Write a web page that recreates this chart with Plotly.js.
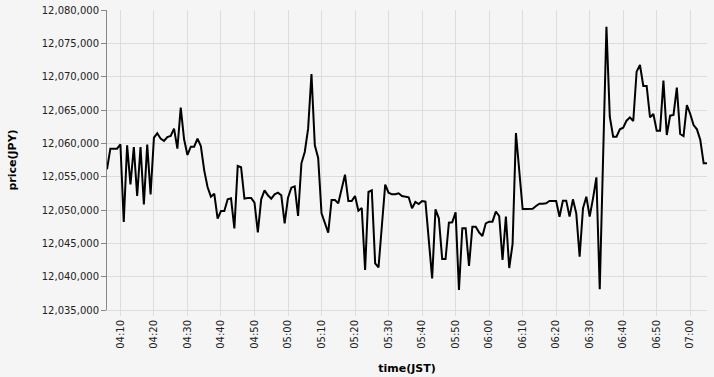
<!DOCTYPE html>
<html>
<head>
<meta charset="utf-8">
<script src="https://cdn.plot.ly/plotly-3.0.1.min.js"></script>
<style>html,body{margin:0;padding:0;background:#f5f5f5;}#chart{width:714px;height:377px;}</style>
</head>
<body>
<div id="chart"></div>
<script>
const times = [];
(function(){
  // one point per minute from 04:06 to 07:05
  const t0 = new Date(2024,0,1,4,6,0);
  for (let i = 0; i < 180; i++) {
    const d = new Date(t0.getTime() + i*60000);
    const p = n => String(n).padStart(2,'0');
    times.push(`2024-01-01 ${p(d.getHours())}:${p(d.getMinutes())}:00`);
  }
})();

const prices = [
12056100,12059200,12059200,12059200,12059850,12048200,12059700,12053850,12059450,12052100,
12059450,12050850,12059800,12052350,12060850,12061500,12060700,12060350,12060950,12061100,
12062200,12059200,12065350,12060600,12058250,12059500,12059500,12060700,12059600,12055950,
12053450,12052000,12052450,12048700,12049850,12049850,12051600,12051750,12047250,12056600,
12056400,12051700,12051800,12051800,12051100,12046650,12051600,12052950,12052200,12051700,
12052350,12052600,12052200,12048000,12051850,12053350,12053550,12049100,12057000,12058700,
12062200,12070400,12059700,12057800,12049500,12048200,12046600,12051500,12051500,12051000,
12053100,12055300,12051350,12051350,12052100,12049900,12050300,12041000,12052700,12052950,
12042000,12041400,12047600,12053800,12052600,12052350,12052350,12052500,12052100,12052050,
12051900,12050250,12051200,12050900,12051350,12051250,12046000,12039750,12050100,12048750,
12042650,12042650,12048100,12048150,12049650,12038000,12047250,12047250,12041600,12047500,
12047500,12046650,12046100,12048000,12048250,12048250,12049750,12049100,12042500,12049000,
12041300,12044900,12061550,12055900,12050150,12050150,12050150,12050200,12050600,12050950,
12050950,12051000,12051350,12051350,12051350,12049000,12051400,12051400,12049000,12051600,
12049500,12043000,12050250,12052000,12049000,12051750,12054900,12038100,12057000,12077500,
12064000,12061000,12061000,12062100,12062350,12063400,12063900,12063350,12070750,12071750,
12068600,12068600,12063900,12064400,12061900,12061900,12069400,12061250,12064150,12064250,
12068350,12061400,12061100,12065750,12064400,12062750,12062100,12060500,12057000,12057000
];

const yTicks = [12035000,12040000,12045000,12050000,12055000,12060000,12065000,12070000,12075000,12080000];

const font = "DejaVu Sans, sans-serif";
const trace = {
  x: times, y: prices, type: 'scatter', mode: 'lines',
  line: {color: '#000000', width: 2}, hoverinfo: 'skip'
};
const layout = {
  width: 714, height: 377,
  margin: {l: 107, r: 7, t: 10, b: 67},
  paper_bgcolor: '#f5f5f5', plot_bgcolor: '#f5f5f5',
  showlegend: false,
  font: {family: font, size: 10, color: '#222'},
  xaxis: {
    type: 'date',
    range: [times[0], times[times.length-1]],
    dtick: 600000, tick0: '2024-01-01 04:00',
    tickformat: '%H:%M', tickangle: -90,
    showgrid: true, gridcolor: '#dddddd', gridwidth: 1,
    ticks: 'outside', ticklen: 5, tickcolor: '#dddddd',
    showline: true, linecolor: '#dddddd', linewidth: 1,
    zeroline: false,
    tickfont: {family: font, size: 10, color: '#222'},
    title: {text: 'time(JST)', font: {family: font, size: 11, color: '#000', weight: 'bold'}, standoff: 16}
  },
  yaxis: {
    range: [12035000, 12080000],
    tickvals: yTicks, tickformat: ',d',
    showgrid: true, gridcolor: '#dddddd', gridwidth: 1,
    ticks: 'outside', ticklen: 5, tickcolor: '#888888',
    showline: true, linecolor: '#888888', linewidth: 1,
    zeroline: false,
    tickfont: {family: font, size: 10, color: '#222'},
    title: {text: 'price(JPY)', font: {family: font, size: 11, color: '#000', weight: 'bold'}, standoff: 22}
  }
};
Plotly.newPlot('chart', [trace], layout, {staticPlot: true, displayModeBar: false});
</script>
</body>
</html>
